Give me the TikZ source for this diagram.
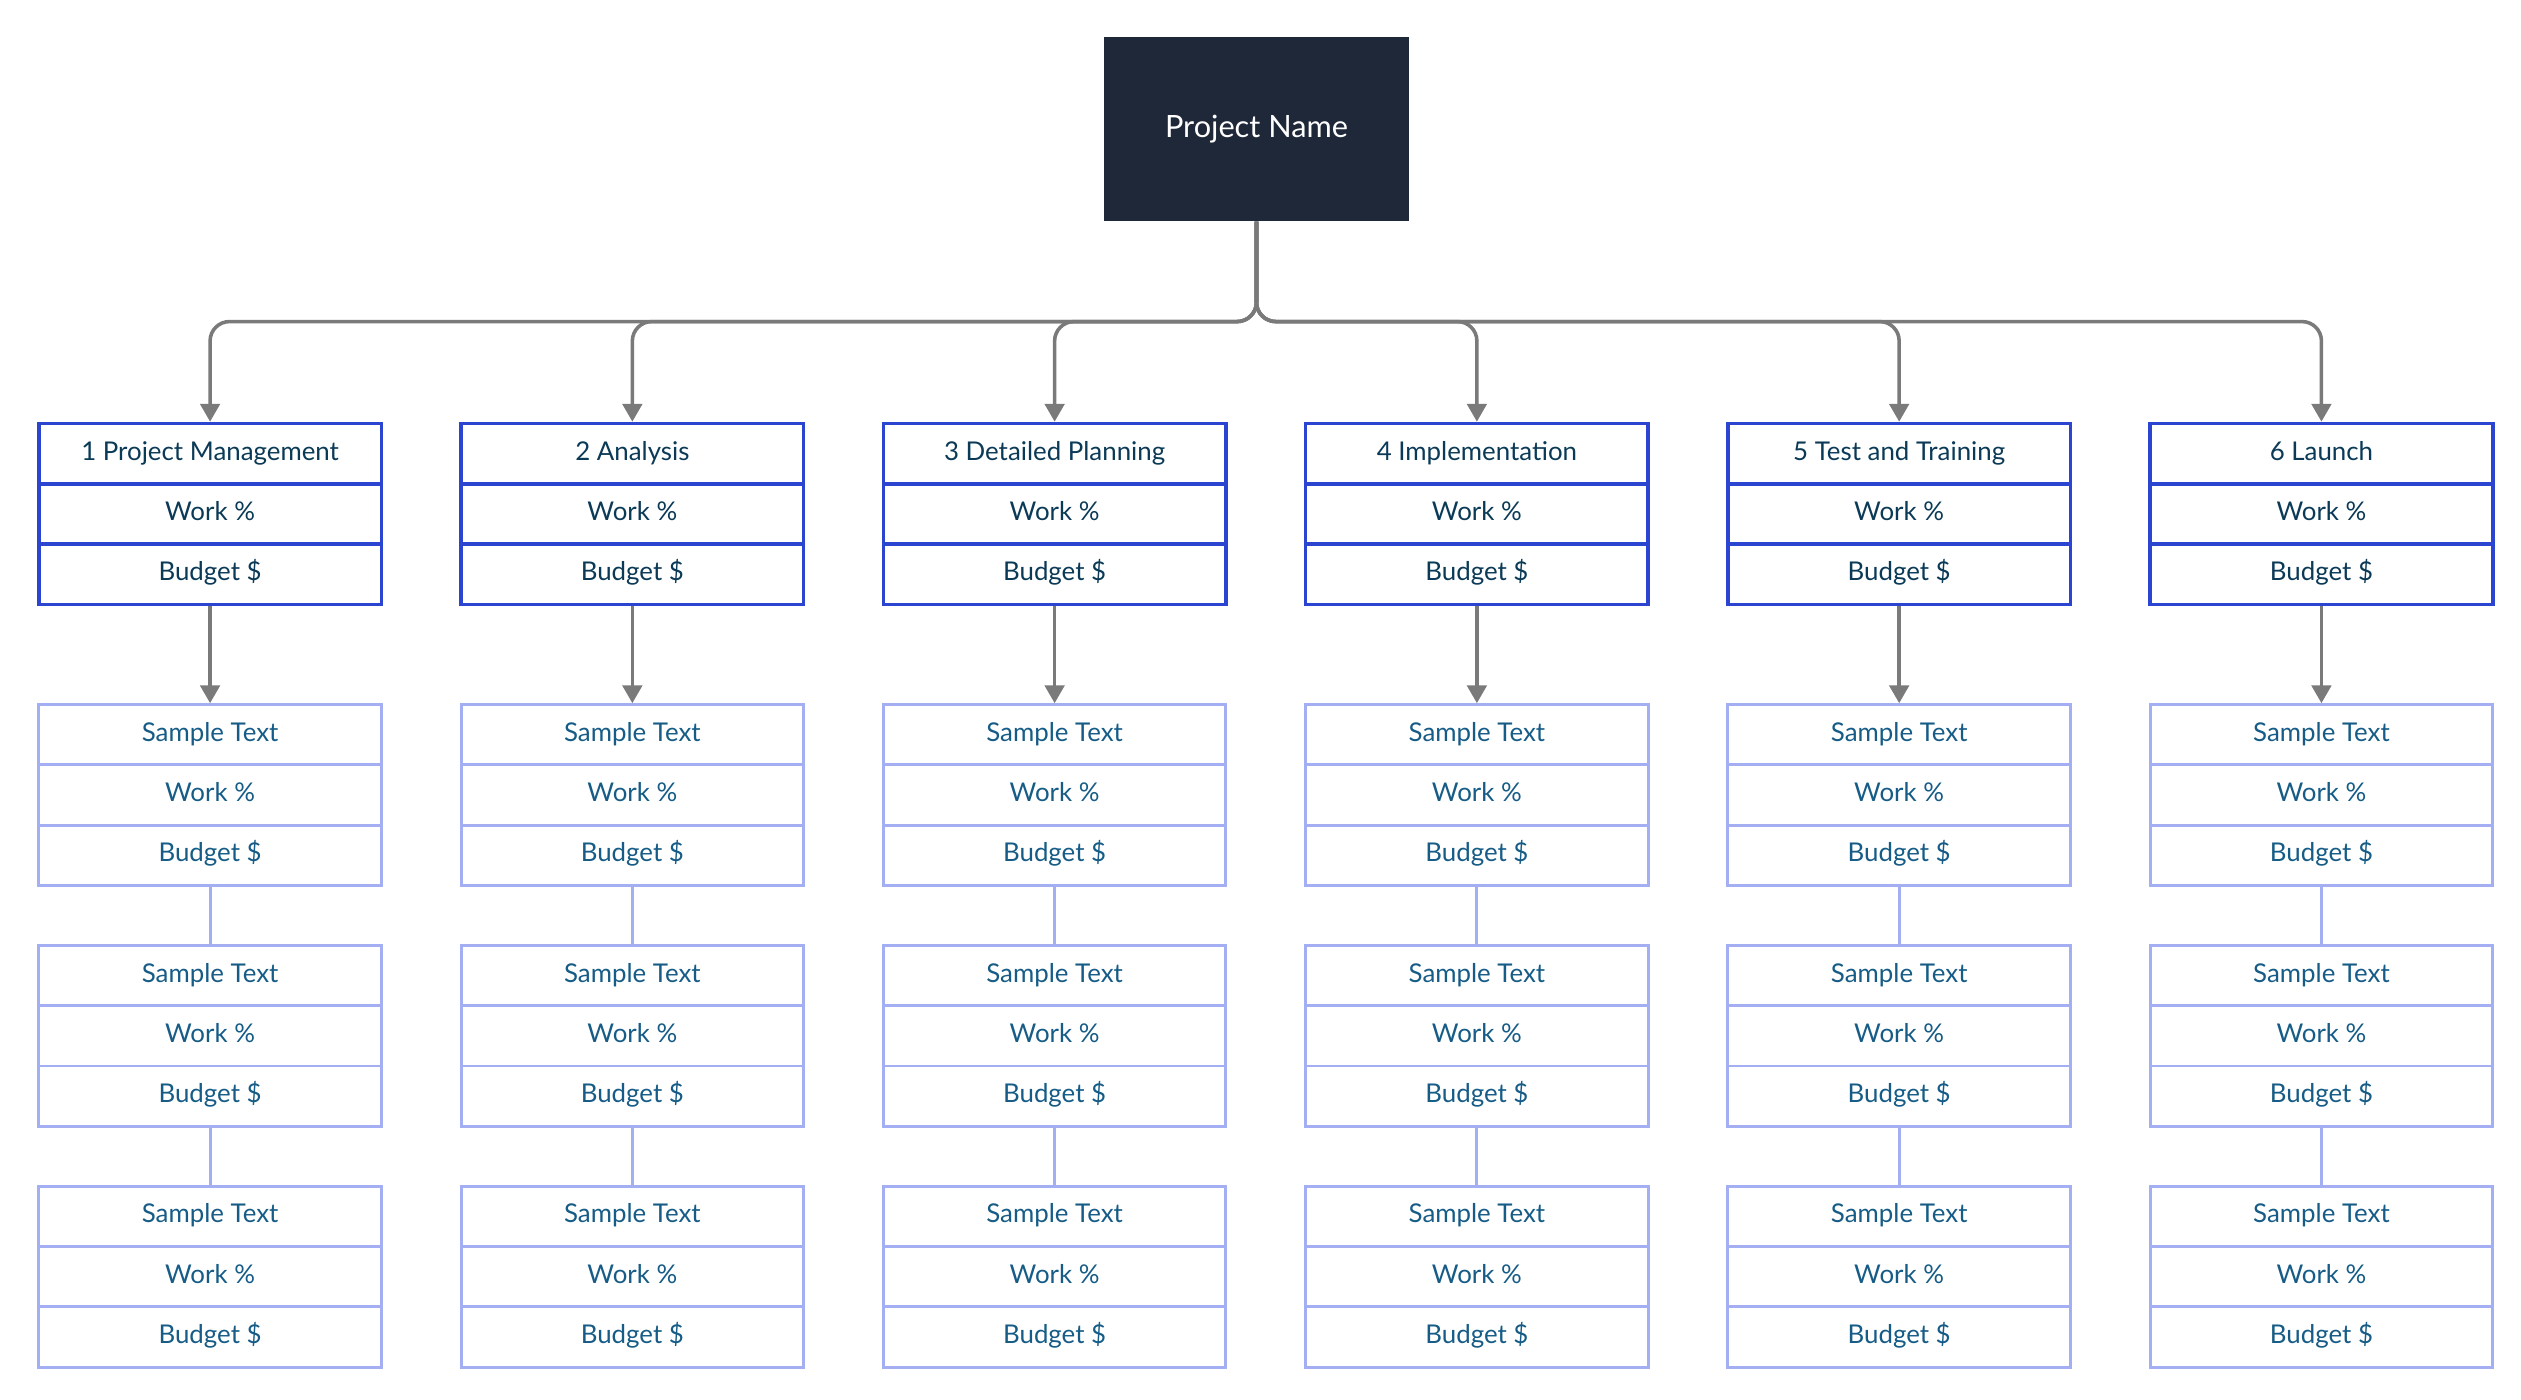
\documentclass[tikz,border=0pt]{standalone}
\usepackage{fontspec}
\setmainfont{Lato}
\usetikzlibrary{arrows.meta}
\definecolor{dark}{HTML}{1F2839}
\definecolor{hblue}{HTML}{2B45D1}
\definecolor{lblue}{HTML}{A4AEF2}
\definecolor{txt}{HTML}{0B3A57}
\definecolor{stxt}{HTML}{165C86}
\definecolor{conn}{HTML}{7A7A7A}
\begin{document}
\begin{tikzpicture}[x=1pt,y=-1pt,
  cell/.style={minimum width=212pt,minimum height=37.3pt,inner sep=0pt,text height=11pt,text depth=3pt,font=\fontsize{16}{16}\selectfont},
  hcell/.style={cell,draw=hblue,line width=2.2pt,text=txt},
  scell/.style={cell,draw=lblue,line width=1.8pt,text=stxt},
  arr/.style={draw=conn,line width=2.2pt,-{Triangle[length=11pt,width=12pt]}},
  lnk/.style={draw=lblue,line width=1.8pt}]
\useasboundingbox (0,0) rectangle (1560,866);
\node[fill=dark,minimum width=189pt,minimum height=114pt,text=white,font=\fontsize{19}{19}\selectfont] (root) at (777.5,80) {Project Name};
\coordinate (bus) at (777.5,199);
\foreach \i/\t in {1/1 Project Management,2/2 Analysis,3/3 Detailed Planning,4/4 Implementation,5/5 Test and Training,6/6 Launch}{
  \pgfmathsetmacro\cx{130+261.3*(\i-1)}
  \node[hcell] (h\i a) at (\cx,280.7) {\t};
  \node[hcell] (h\i b) at (\cx,318) {Work \%};
  \node[hcell] (h\i c) at (\cx,355.3) {Budget \$};
  \foreach \k/\y in {1/454.7,2/603.7,3/752.7}{
    \node[scell] (s\i\k a) at (\cx,\y) {Sample Text};
    \node[scell] (s\i\k b) at (\cx,\y+37.3) {Work \%};
    \node[scell] (s\i\k c) at (\cx,\y+74.6) {Budget \$};
  }
  \draw[arr,rounded corners=12pt] (root.south) -- (bus) -| (h\i a.north);
  \draw[arr] (h\i c.south) -- (s\i1a.north);
  \draw[lnk] (s\i1c.south) -- (s\i2a.north);
  \draw[lnk] (s\i2c.south) -- (s\i3a.north);
}
\end{tikzpicture}
\end{document}
